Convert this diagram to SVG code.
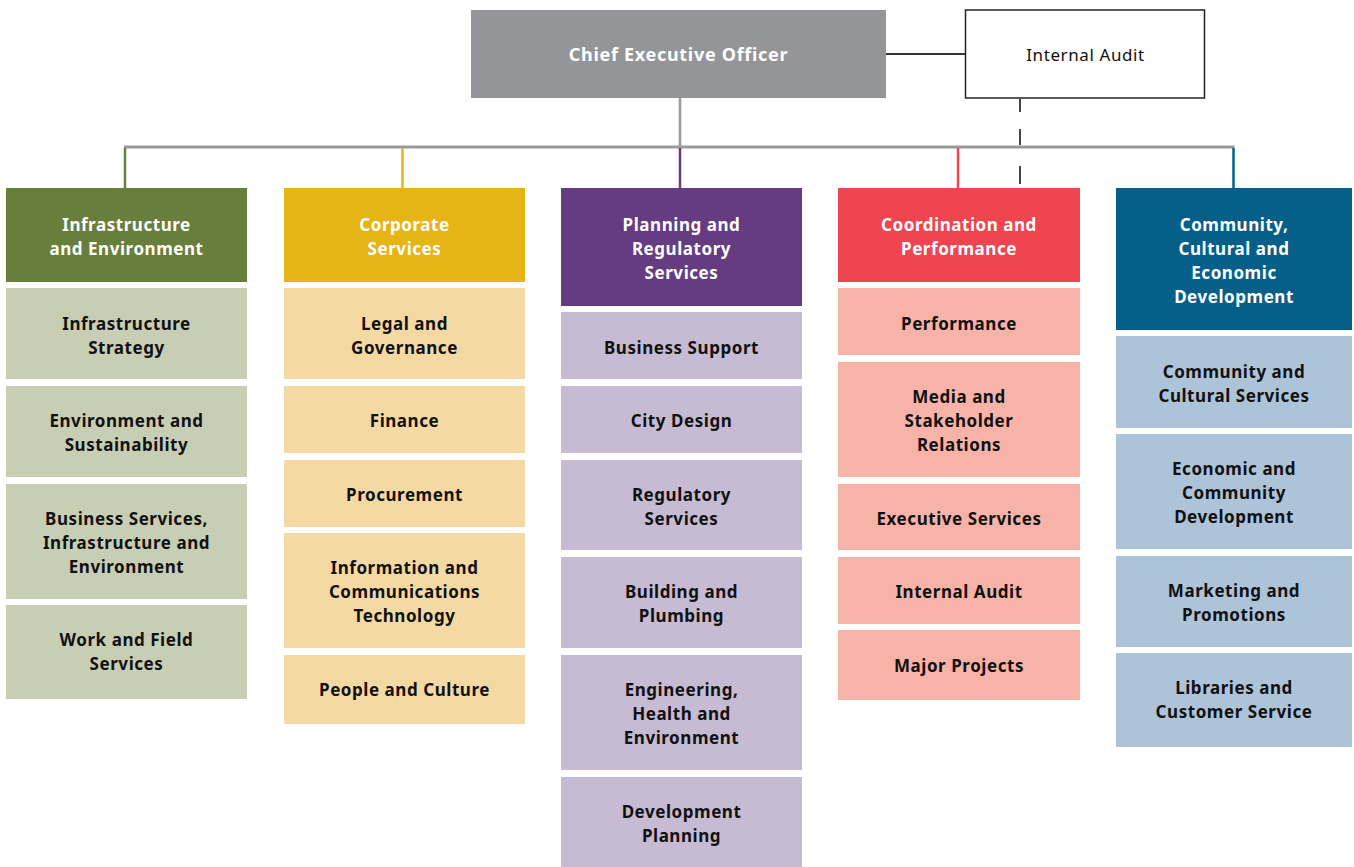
<svg xmlns="http://www.w3.org/2000/svg" width="1354" height="867" viewBox="0 0 1354 867">
  <style>
    text { font-family: "Noto Sans", "Liberation Sans", sans-serif; text-anchor: middle; }
    .t { font-size: 17px; font-weight: 700; letter-spacing: 0.55px; fill: #111; }
    .h { font-size: 17px; font-weight: 700; letter-spacing: 0.55px; fill: #fff; }
    .ceo { font-size: 18px; font-weight: 700; letter-spacing: 0.7px; fill: #fff; }
    .ia { font-size: 17px; font-weight: 400; letter-spacing: 0.6px; fill: #111; }
    .g1 { fill: #687E3B; } .s1 { fill: #C8CEB4; }
    .g2 { fill: #E6B414; } .s2 { fill: #F5D9A3; }
    .g3 { fill: #643C7F; } .s3 { fill: #C7BAD3; }
    .g4 { fill: #EF4550; } .s4 { fill: #F8B3A8; }
    .g5 { fill: #055F88; } .s5 { fill: #ADC3D8; }
  </style>

  <!-- connectors -->
  <g id="connectors" fill="none">
    <line x1="886" y1="54" x2="966" y2="54" stroke="#333" stroke-width="2"/>
    <line x1="680" y1="98" x2="680" y2="147" stroke="#9A9A9E" stroke-width="2.5"/>
    <line x1="124" y1="147" x2="1234.5" y2="147" stroke="#9A9A9E" stroke-width="3"/>
    <line x1="125" y1="148" x2="125" y2="188" stroke="#687E3B" stroke-width="2.5"/>
    <line x1="402.5" y1="148" x2="402.5" y2="188" stroke="#E6B414" stroke-width="2.5"/>
    <line x1="680" y1="148" x2="680" y2="188" stroke="#643C7F" stroke-width="2.5"/>
    <line x1="958" y1="148" x2="958" y2="188" stroke="#EF4550" stroke-width="2.5"/>
    <line x1="1233.5" y1="148" x2="1233.5" y2="188" stroke="#055F88" stroke-width="2.5"/>
    <!-- dashed reporting line from Internal Audit -->
    <path d="M1020 99V112M1020 129V145M1020 166V184" stroke="#444" stroke-width="2"/>
  </g>

  <!-- top level -->
  <g id="ceo">
    <rect x="471" y="10" width="415" height="88" fill="#949598"/>
    <text class="ceo" x="678.5" y="61">Chief Executive Officer</text>
  </g>
  <g id="internal-audit-top">
    <rect x="965.5" y="10" width="239" height="88" fill="#fff" stroke="#222" stroke-width="1.5"/>
    <text class="ia" x="1085.5" y="61">Internal Audit</text>
  </g>

  <!-- Infrastructure and Environment -->
  <g id="infrastructure-environment">
    <rect class="g1" x="6" y="188" width="241" height="94"/>
    <text class="h" x="126.5" y="230.5">Infrastructure</text>
    <text class="h" x="126.5" y="254.5">and Environment</text>
  </g>
  <g id="infrastructure-strategy">
    <rect class="s1" x="6" y="288" width="241" height="91"/>
    <text class="t" x="126.5" y="329.5">Infrastructure</text>
    <text class="t" x="126.5" y="353.5">Strategy</text>
  </g>
  <g id="environment-sustainability">
    <rect class="s1" x="6" y="386" width="241" height="91"/>
    <text class="t" x="126.5" y="426.5">Environment and</text>
    <text class="t" x="126.5" y="450.5">Sustainability</text>
  </g>
  <g id="business-services-ie">
    <rect class="s1" x="6" y="484" width="241" height="115"/>
    <text class="t" x="126.5" y="524.5">Business Services,</text>
    <text class="t" x="126.5" y="548.5">Infrastructure and</text>
    <text class="t" x="126.5" y="572.5">Environment</text>
  </g>
  <g id="work-field-services">
    <rect class="s1" x="6" y="605" width="241" height="94"/>
    <text class="t" x="126.5" y="645.5">Work and Field</text>
    <text class="t" x="126.5" y="669.5">Services</text>
  </g>

  <!-- Corporate Services -->
  <g id="corporate-services">
    <rect class="g2" x="284" y="188" width="241" height="94"/>
    <text class="h" x="404.5" y="230.5">Corporate</text>
    <text class="h" x="404.5" y="254.5">Services</text>
  </g>
  <g id="legal-governance">
    <rect class="s2" x="284" y="288" width="241" height="91"/>
    <text class="t" x="404.5" y="329.5">Legal and</text>
    <text class="t" x="404.5" y="353.5">Governance</text>
  </g>
  <g id="finance">
    <rect class="s2" x="284" y="386" width="241" height="67"/>
    <text class="t" x="404.5" y="426.5">Finance</text>
  </g>
  <g id="procurement">
    <rect class="s2" x="284" y="460" width="241" height="67"/>
    <text class="t" x="404.5" y="500.5">Procurement</text>
  </g>
  <g id="ict">
    <rect class="s2" x="284" y="533" width="241" height="115"/>
    <text class="t" x="404.5" y="573.5">Information and</text>
    <text class="t" x="404.5" y="597.5">Communications</text>
    <text class="t" x="404.5" y="621.5">Technology</text>
  </g>
  <g id="people-culture">
    <rect class="s2" x="284" y="655" width="241" height="69"/>
    <text class="t" x="404.5" y="695.5">People and Culture</text>
  </g>

  <!-- Planning and Regulatory Services -->
  <g id="planning-regulatory">
    <rect class="g3" x="561" y="188" width="241" height="118"/>
    <text class="h" x="681.5" y="230.5">Planning and</text>
    <text class="h" x="681.5" y="254.5">Regulatory</text>
    <text class="h" x="681.5" y="278.5">Services</text>
  </g>
  <g id="business-support">
    <rect class="s3" x="561" y="312" width="241" height="67"/>
    <text class="t" x="681.5" y="353.5">Business Support</text>
  </g>
  <g id="city-design">
    <rect class="s3" x="561" y="386" width="241" height="67"/>
    <text class="t" x="681.5" y="426.5">City Design</text>
  </g>
  <g id="regulatory-services">
    <rect class="s3" x="561" y="460" width="241" height="90"/>
    <text class="t" x="681.5" y="500.5">Regulatory</text>
    <text class="t" x="681.5" y="524.5">Services</text>
  </g>
  <g id="building-plumbing">
    <rect class="s3" x="561" y="557" width="241" height="91"/>
    <text class="t" x="681.5" y="597.5">Building and</text>
    <text class="t" x="681.5" y="621.5">Plumbing</text>
  </g>
  <g id="engineering-health-environment">
    <rect class="s3" x="561" y="655" width="241" height="115"/>
    <text class="t" x="681.5" y="695.5">Engineering,</text>
    <text class="t" x="681.5" y="719.5">Health and</text>
    <text class="t" x="681.5" y="743.5">Environment</text>
  </g>
  <g id="development-planning">
    <rect class="s3" x="561" y="777" width="241" height="90"/>
    <text class="t" x="681.5" y="817.5">Development</text>
    <text class="t" x="681.5" y="841.5">Planning</text>
  </g>

  <!-- Coordination and Performance -->
  <g id="coordination-performance">
    <rect class="g4" x="838" y="188" width="242" height="94"/>
    <text class="h" x="959" y="230.5">Coordination and</text>
    <text class="h" x="959" y="254.5">Performance</text>
  </g>
  <g id="performance">
    <rect class="s4" x="838" y="288" width="242" height="67"/>
    <text class="t" x="959" y="329.5">Performance</text>
  </g>
  <g id="media-stakeholder">
    <rect class="s4" x="838" y="362" width="242" height="115"/>
    <text class="t" x="959" y="402.5">Media and</text>
    <text class="t" x="959" y="426.5">Stakeholder</text>
    <text class="t" x="959" y="450.5">Relations</text>
  </g>
  <g id="executive-services">
    <rect class="s4" x="838" y="484" width="242" height="66"/>
    <text class="t" x="959" y="524.5">Executive Services</text>
  </g>
  <g id="internal-audit">
    <rect class="s4" x="838" y="557" width="242" height="67"/>
    <text class="t" x="959" y="597.5">Internal Audit</text>
  </g>
  <g id="major-projects">
    <rect class="s4" x="838" y="630" width="242" height="70"/>
    <text class="t" x="959" y="671.5">Major Projects</text>
  </g>

  <!-- Community, Cultural and Economic Development -->
  <g id="community-cultural-economic">
    <rect class="g5" x="1116" y="188" width="236" height="142"/>
    <text class="h" x="1234" y="230.5">Community,</text>
    <text class="h" x="1234" y="254.5">Cultural and</text>
    <text class="h" x="1234" y="278.5">Economic</text>
    <text class="h" x="1234" y="302.5">Development</text>
  </g>
  <g id="community-cultural-services">
    <rect class="s5" x="1116" y="336" width="236" height="92"/>
    <text class="t" x="1234" y="377.5">Community and</text>
    <text class="t" x="1234" y="401.5">Cultural Services</text>
  </g>
  <g id="economic-community-development">
    <rect class="s5" x="1116" y="434" width="236" height="115"/>
    <text class="t" x="1234" y="474.5">Economic and</text>
    <text class="t" x="1234" y="498.5">Community</text>
    <text class="t" x="1234" y="522.5">Development</text>
  </g>
  <g id="marketing-promotions">
    <rect class="s5" x="1116" y="556" width="236" height="91"/>
    <text class="t" x="1234" y="596.5">Marketing and</text>
    <text class="t" x="1234" y="620.5">Promotions</text>
  </g>
  <g id="libraries-customer-service">
    <rect class="s5" x="1116" y="653" width="236" height="94"/>
    <text class="t" x="1234" y="693.5">Libraries and</text>
    <text class="t" x="1234" y="717.5">Customer Service</text>
  </g>
</svg>
